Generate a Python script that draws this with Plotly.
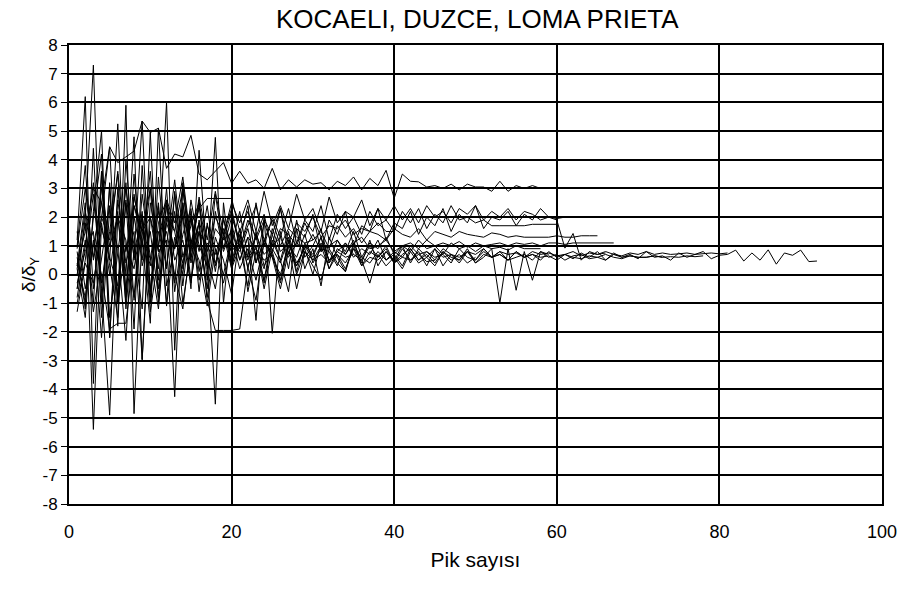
import plotly.graph_objects as go

# delta/deltaY values per peak number (peak number = 1, 2, 3, ...)
s01 = [0.8, -1.2, 4.4, -1.5, 3.2, -0.8, 2.6, -1.9, 3.8, -0.5, 2.4, -1.0, 2.9, 0.2, 2.2, -0.6, 1.8, 0.1, 2.0, 0.4,
       1.6, 0.2, 1.4, -0.3, 1.2, 0.5, 1.5, 0.1, 1.1, 0.6, 1.3, 0.2, 0.9, 0.7, 1.2, 0.3, 0.8, 0.6, 1.0, 0.4,
       0.9, 0.5, 0.8, 0.3, 0.9, 0.6, 0.7, 0.4, 0.8, 0.5, 0.9, 0.6, 0.7, 0.5, 0.8, 0.6, 0.7, 0.5, 0.8, 0.6,
       0.7, 0.55, 0.75, 0.6, 0.8, 0.5, 0.75, 0.6, 0.7, 0.55, 0.8, 0.6, 0.65, 0.5, 0.75, 0.6, 0.7, 0.8, 0.55, 0.67,
       0.7, 0.85, 0.47, 0.75, 0.5, 0.86, 0.36, 0.75, 0.67, 0.85, 0.45, 0.47]
s02 = [0.3, 1.5, 3.0, 2.5, 4.45, 3.9, 4.1, 4.3, 5.35, 4.95, 5.1, 3.7, 4.2, 4.1, 4.85, 3.5, 3.3, 3.6, 3.9, 3.18,
       3.6, 3.18, 3.3, 3.0, 3.7, 2.95, 3.3, 3.05, 3.3, 3.15, 3.2, 2.95, 3.25, 3.1, 3.4, 2.95, 3.35, 3.1, 3.63, 2.66,
       3.5, 3.25, 3.23, 3.05, 3.1, 3.0, 3.15, 2.95, 3.15, 3.05, 3.05, 2.9, 3.25, 2.9, 3.1, 3.0, 3.1, 3.0, 3.0]
s03 = [1.2, 6.2, -3.8, 3.5, 0.5, 5.25, -0.8, 2.8, 1.0, 3.6, -0.2, 2.5, 1.5, 3.0, 0.8, 2.7, 1.2, 2.9, 1.4, 2.5,
       1.8, 2.6, 1.5, 2.9, 1.7, 2.4, 1.6, 2.8, 1.9, 2.3, 1.5, 2.7, 1.8, 2.2, 2.0, 2.6, 1.7, 2.3, 1.9, 2.4,
       1.9, 2.3, 1.8, 2.4, 2.0, 2.2, 1.8, 2.3, 2.1, 2.4, 1.9, 2.2, 2.0, 2.3, 1.9, 2.2, 2.1, 1.9, 2.0, 1.95, 2.0, 2.0]
s04 = [-0.5, 2.0, 7.3, -1.0, 3.0, -1.8, 4.0, 0.5, 2.2, -1.0, 3.4, 0.2, 2.8, -0.4, 2.0, 0.8, 2.4, 0.3, 1.9, 1.0,
       2.2, 0.6, 2.5, 1.0, 2.0, 1.3, 2.3, 1.1, 1.9, 1.5, 2.4, 1.2, 2.1, 1.6, 2.0, 1.4, 2.2, 1.7, 1.9, 1.5,
       2.2, 1.8, 2.3, 1.6, 2.1, 1.8, 2.4, 1.9, 2.0, 1.8, 1.9, 1.7, 1.7, 1.7, 1.7, 1.7, 1.75, 1.75, 1.75, 1.75]
s05 = [0.2, -1.5, 2.2, 5.0, -2.2, 3.0, 0.0, 4.8, -3.0, 2.5, 0.8, 6.0, -2.64, 3.0, 0.5, 2.6, -0.2, 2.8, 0.9, 2.0,
       1.2, 2.4, 0.4, 1.8, 1.0, 2.3, 0.7, 1.6, 1.3, 2.1, 0.8, 1.9, 1.4, 2.2, 1.0, 1.7, 1.5, 2.3, 1.2, 1.8,
       1.6, 2.2, 1.4, 2.0, 1.7, 2.3, 1.5, 2.1, 1.8, 2.4, 1.6, 2.0, 1.9, 2.2, 1.7, 2.1, 1.9, 2.3, 2.0, 1.9,
       0.92, 1.43, 0.5, 0.8, 0.7, 0.75]
s06 = [1.0, 3.8, -0.5, 2.0, 4.45, -1.0, 2.5, 0.6, 5.35, -0.8, 1.8, 2.6, -0.3, 3.2, 1.0, 2.4, 0.2, 1.6, 1.2, 2.2,
       0.9, 1.9, 1.3, 2.1, 0.8, 1.6, 1.4, 1.0, 1.8, 1.2, 1.5, 0.9, 1.7, 1.3, 1.6, 1.1, 1.5, 1.4, 1.2, 1.6,
       1.4, 1.3, 1.6, 1.2, 1.5, 1.4, 1.3, 1.5, 1.4, 1.35, 1.3, 1.45, 1.4, 1.3, 1.35, 1.3, 1.3, 1.3, 1.3, 1.35,
       1.3, 1.3, 1.35, 1.35, 1.35]
s07 = [-1.0, 0.5, 2.8, -0.3, 1.5, 3.5, -1.2, 2.0, 0.5, 3.0, -0.5, 1.8, 0.9, 2.2, -0.2, 1.5, 1.0, 0.4, 1.3, 0.8,
       1.2, 0.5, 1.4, 0.7, 1.0, 1.3, 0.6, 1.1, 0.9, 1.4, 0.8, 1.0, 1.2, 0.7, 1.1, 1.3, 0.9, 1.0, 1.2, 0.8,
       1.0, 1.1, 0.9, 1.2, 1.0, 1.1, 1.0, 1.15, 0.95, 1.1, 1.0, 1.05, 1.1, 1.0, 1.1, 1.05, 1.1, 1.0, 1.1, 1.1,
       1.05, 1.1, 1.1, 1.1, 1.1, 1.1, 1.1]
s08 = [0.3, 2.5, -5.4, 1.8, 0.0, 2.2, -1.0, 3.5, 0.3, 1.5, -0.8, 2.4, 0.5, 1.2, -0.3, 1.9, 0.6, -0.5, 1.4, 0.2,
       1.0, -0.4, 1.5, 0.3, 0.8, -0.2, 1.2, 0.4, 0.9, 0.0, 1.1, 0.5, 0.7, 0.2, 0.9, 0.6, 0.4, 0.8, 0.5, 0.7,
       0.3, 0.9, 0.5, 0.7, 0.4, 0.8, 0.6, 0.5, 0.9, 0.4, 0.7, 0.6, 0.8, 0.5, 0.6, 0.7, 0.5, 0.8, 0.6, 0.7,
       0.5, 0.65, 0.7, 0.55, 0.6, 0.7, 0.6, 0.55, 0.65, 0.6, 0.6, 0.65, 0.6]
s09 = [-0.8, 1.0, 3.2, -0.5, -4.9, 2.0, 1.2, -0.8, 2.8, 0.6, -1.2, 2.0, 0.9, 2.5, 0.4, 1.5, -0.5, 2.2, 0.8, 1.6,
       0.5, 1.3, 0.9, 0.2, 1.6, 0.8, 1.1, 0.3, 1.0, 0.7, 1.3, 0.5, 0.8, 1.1, 0.6, 0.9, 0.7, 1.2, 0.5, 0.8,
       0.6, 1.0, 0.7, 0.8, 0.5, 0.9, 0.7, 0.6, 0.8, 0.7, 0.9, 0.6, 0.8, 0.7, 0.75, 0.6, 0.8, 0.7, 0.75, 0.65,
       0.7, 0.8, 0.65, 0.75, 0.7, 0.8, 0.7, 0.65, 0.75, 0.7, 0.8, 0.7, 0.75, 0.7, 0.72, 0.75, 0.7, 0.72, 0.75, 0.72,
       0.75]
s10 = [1.5, -0.5, 1.0, 2.5, 0.3, -1.5, 5.9, -4.85, 1.5, 2.0, 0.2, 3.0, -0.6, 1.4, 2.3, 0.1, 1.7, 0.9, -0.3, 1.1,
       0.8, 1.6, 0.4, 1.2, 0.7, -0.3, 1.0, 0.6, 1.4, 0.4, 0.9, 0.8, 0.3, 1.1, 0.7, 0.5, 1.0, 0.6, 0.9, 0.4,
       0.7, 0.9, 0.5, 0.8, 0.6, 0.7, 0.4, 0.9, 0.6, 0.5, 0.8, 0.6, 0.7, 0.5, 0.8, 0.6, 0.7, 0.6, 0.65, 0.5,
       0.7, 0.6, 0.55, 0.65, 0.6, 0.5, 0.7, 0.6, 0.65, 0.6, 0.6, 0.65, 0.6, 0.62, 0.6, 0.65, 0.62, 0.65]
s11 = [0.0, 1.8, -1.0, 3.6, -2.2, 2.6, 0.4, 1.5, -2.95, 2.0, 0.8, 1.2, -4.26, 2.5, 0.6, 1.8, -0.8, 1.3, 0.5, -0.7,
       1.4, 0.2, -0.9, 1.2, 0.6, 0.0, 1.0, -0.5, 0.8, 0.3, -0.2, 0.9, 0.4, 0.1, 1.1, 0.5, -0.3, 0.7, 0.3, 0.6,
       0.2, 0.8, 0.4, 0.6, 0.9, 0.3, 0.7, 0.5, 0.8, 0.4, 0.6, 0.9, -0.99, 0.9, -0.55, 0.8, -0.2, 0.8, 0.7]
s12 = [0.6, -1.0, 2.0, 4.2, -1.5, 0.8, 3.0, 1.0, -1.2, 4.95, -1.0, 2.0, 1.5, 0.0, 2.6, 1.0, 0.3, 4.78, -1.0, 1.8,
       0.5, 1.3, -1.6, 2.0, -2.05, 1.5, 0.2, 1.9, 0.6, 1.0, 1.6, 0.4, 1.2, 0.8, 1.5, 0.6, 1.1, 0.9, 1.3, 0.7,
       1.0, 0.8, 1.2, 0.9, 1.0, 0.7, 1.1, 0.9, 1.0, 0.8, 1.0, 0.9, 0.95, 0.85, 1.0, 0.9, 0.9, 0.9]
s13 = [-0.3, 0.8, 1.5, -2.2, 2.3, 0.9, -2.3, 2.4, 1.2, -1.7, 5.1, -0.4, 1.0, 2.0, -0.5, 4.33, 0.4, -4.52, 2.5, 0.2,
       1.6, -0.6, 0.8, -0.2, 1.4, 0.5, -0.6, 1.6, 0.2, 0.9, -0.4, 1.3, 0.6, 0.1, 1.0, 0.4, 1.2, 0.3, 0.8, 0.5,
       1.0, 0.4, 0.9, 0.6, 0.3, 0.8, 0.5, 0.7, 0.4, 0.6]
s14 = [0.4, -0.8, 1.2, 0.0, -1.9, -1.7, -1.7, 0.8, 2.0, -0.6, 1.5, 0.3, 2.2, -1.0, 0.9, 1.8, -0.9, -1.95, -1.95, -1.95,
       -1.9, 0.3, 1.0, -0.5, 0.9, 0.4, 1.3, 0.0, 0.8, 0.5, 1.0, 0.2, 0.7, 0.4, 0.9, 0.3, 0.6, 0.5, 0.8, 0.4,
       0.6, 0.5, 0.7, 0.45, 0.5]
s15 = [0.9, 3.0, 0.5, 2.0, 1.2, 3.6, 0.8, 2.4, 1.5, 3.0, 1.0, 2.6, 1.8, 3.4, 1.1, 2.3, 2.65, 2.65, 2.65, 2.65,
       1.5, 2.2, 1.2, 1.9, 1.4, 2.3, 1.1, 1.8, 1.5, 2.0, 1.3, 1.7, 1.6, 1.9, 1.4, 1.6, 1.5, 1.8, 1.5, 1.5]
s16 = [-0.5, 1.2, -1.3, 0.6, 2.4, -1.0, 1.0, 0.2, 2.0, -1.3, 0.7, 1.5, 0.0, -1.2, 1.2, 0.5, -1.1, 0.9, 0.0, 1.3,
       0.2, 0.9, -0.2, 1.1, 0.6, -0.5, 0.8, 0.3, 1.0, 0.5, 0.7, 0.4, 0.8, 0.6, 0.7]
s17 = [0.2, 2.2, 0.6, 3.0, 1.0, 2.0, -0.5, 2.7, 1.5, 0.3, 2.2, 1.0, 3.3, 0.6, 1.7, 2.5, 0.8, 2.0, 1.4, 2.3,
       1.0, 1.7, 2.4, 1.2, 1.9, 1.0, 1.6, 1.3, 1.1, 1.2]
s18 = [-1.3, 0.4, -0.3, 1.6, 0.6, -0.4, 3.2, -0.9, 1.8, 0.5, 2.5, -1.1, 1.3, 0.4, 2.0, -0.2, 1.1, 0.7, 1.6, 0.3,
       1.2, 0.6, 0.9, 0.5, 0.7]

series = [s01, s02, s03, s04, s05, s06, s07, s08, s09, s10, s11, s12, s13, s14, s15, s16, s17, s18]

title_text = "KOCAELI, DUZCE, LOMA PRIETA"
x_title = "Pik sayısı"
y_title = "δ/δ<sub>Y</sub>"
x_ticks = [0, 20, 40, 60, 80, 100]
y_ticks = list(range(-8, 9))

FONT = "Liberation Sans, Arial, sans-serif"

fig = go.Figure()
for s in series:
    fig.add_trace(go.Scatter(
        x=list(range(1, len(s) + 1)), y=s, mode="lines",
        line=dict(color="black", width=1), hoverinfo="skip", showlegend=False))

fig.update_layout(
    width=909, height=594,
    margin=dict(l=69, r=24, t=45, b=90),
    paper_bgcolor="white", plot_bgcolor="white",
    font=dict(family=FONT, color="black", size=17),
    title=dict(text=title_text, x=0.525, xanchor="center", y=1 - 19 / 594, yanchor="middle",
               font=dict(size=26, family=FONT)),
    showlegend=False,
)
fig.update_xaxes(
    range=[0, 100], tickvals=x_ticks, ticktext=[str(v) for v in x_ticks],
    showgrid=True, gridcolor="black", gridwidth=1.5,
    showline=True, linecolor="black", linewidth=2, mirror=True,
    ticks="", zeroline=False, tickfont=dict(size=18), ticklabelstandoff=10,
    title=dict(text=x_title, font=dict(size=21), standoff=12),
)
fig.update_yaxes(
    range=[-8, 8], tickvals=y_ticks, ticktext=[str(v) for v in y_ticks],
    showgrid=True, gridcolor="black", gridwidth=1.5,
    showline=True, linecolor="black", linewidth=2, mirror=True,
    ticks="outside", ticklen=6, tickcolor="black", tickwidth=1,
    zeroline=False, tickfont=dict(size=17),
    title=dict(text=y_title, font=dict(size=19), standoff=2),
)

fig.write_html("out.html")
